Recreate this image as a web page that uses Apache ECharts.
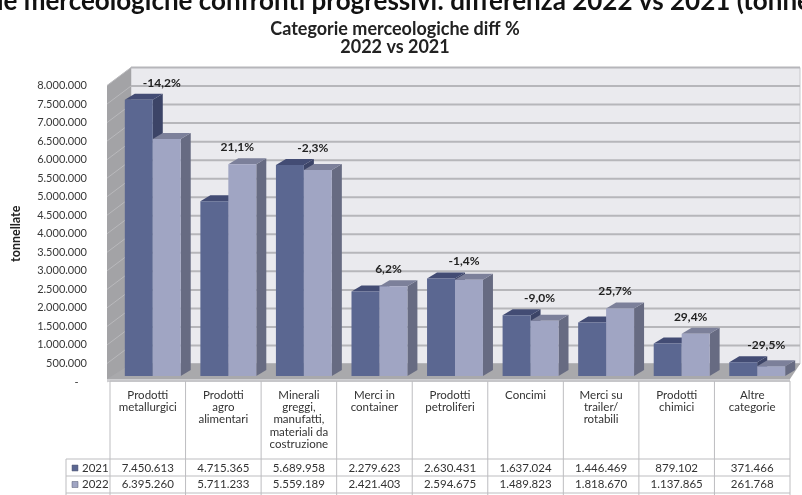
<!DOCTYPE html>
<html>
<head>
<meta charset="utf-8">
<script src="https://cdn.jsdelivr.net/npm/echarts@6/dist/echarts.min.js"></script>
<style>
  html, body { margin: 0; padding: 0; background: #ffffff; }
  #chart { width: 802px; height: 495px; }
</style>
</head>
<body>
<div id="chart"></div>
<script>
// Goods categories (table header text, one line per row)
const categories = [
  'Prodotti\nmetallurgici',
  'Prodotti\nagro\nalimentari',
  'Minerali\ngreggi,\nmanufatti,\nmateriali da\ncostruzione',
  'Merci in\ncontainer',
  'Prodotti\npetroliferi',
  'Concimi',
  'Merci su\ntrailer/\nrotabili',
  'Prodotti\nchimici',
  'Altre\ncategorie'
];
// Tonnes handled per year
const tons2021 = [7450613, 4715365, 5689958, 2279623, 2630431, 1637024, 1446469, 879102, 371466];
const tons2022 = [6395260, 5711233, 5559189, 2421403, 2594675, 1489823, 1818670, 1137865, 261768];
const years = ['2021', '2022'];
// Value axis range and tick step
const axisMin = 0;
const axisMax = 8000000;
const axisStep = 500000;

const FONT = 'Lato, "Open Sans", "DejaVu Sans", sans-serif';
const fmtNum = v => String(v).replace(/\B(?=(\d{3})+(?!\d))/g, '.');
const diffPct = i => ((tons2022[i] / tons2021[i] - 1) * 100).toFixed(1).replace('.', ',') + '%';

// Pseudo-3D offsets (pixels): back wall, bar plane, bar depth
const WALL = { dxL: 21, dxR: 10, dy: -18 };
const PLANE = { dx: 5, dy: -6 };
const DEPTH = { dx: 10, dy: -6 };

const barStyles = [
  { front: '#5b6791', top: '#434c74', side: '#3c4467' },
  { front: '#a0a5c3', top: '#7c809a', side: '#676b82' }
];

// Walls, floor and gridlines of the box
function renderFrame(params, api) {
  const cs = params.coordSys;
  const x0 = cs.x - 3, x1 = cs.x + cs.width;
  const yAt = v => api.coord([0, v])[1];
  const bx0 = cs.x + WALL.dxL, bx1 = x1 + WALL.dxR;
  const y0 = yAt(axisMin), yTop = yAt(axisMax);
  const kids = [];
  kids.push({ type: 'polygon', shape: { points: [[bx0, yTop + WALL.dy], [bx1, yTop + WALL.dy], [bx1, y0 + WALL.dy], [bx0, y0 + WALL.dy]] },
    style: { fill: '#eaeaee', stroke: '#c8c8cc', lineWidth: 1 } });
  kids.push({ type: 'polygon', shape: { points: [[x0, yTop], [bx0, yTop + WALL.dy], [bx0, y0 + WALL.dy], [x0, y0]] },
    style: { fill: '#a3a3a6' } });
  for (let v = axisMin; v <= axisMax; v += axisStep) {
    const y = yAt(v);
    kids.push({ type: 'line', shape: { x1: bx0, y1: y + WALL.dy, x2: bx1, y2: y + WALL.dy },
      style: { stroke: '#b6b6ba', lineWidth: 2 } });
    kids.push({ type: 'line', shape: { x1: x0, y1: y, x2: bx0, y2: y + WALL.dy },
      style: { stroke: '#b9b9bc', lineWidth: 1 } });
  }
  // floor
  kids.push({ type: 'polygon', shape: { points: [[x0, y0 - 3], [x1, y0 - 3], [bx1, y0 + WALL.dy], [bx0, y0 + WALL.dy]] },
    style: { fill: '#a9a9ac' } });
  kids.push({ type: 'polygon', shape: { points: [[x0, y0 - 3], [x1, y0 - 3], [x1, y0], [x0, y0]] },
    style: { fill: '#cfcfd2' } });
  return { type: 'group', children: kids };
}

// One 3D-looking column per data item
function makeBarRenderer(k) {
  const st = barStyles[k];
  return function (params, api) {
    const i = api.value(0);
    const v = api.value(1);
    const band = api.size([1, 0])[0];
    const w = band * 0.37;
    const c = api.coord([i, v]);
    const b = api.coord([i, 0]);
    const xl = c[0] - w + k * w + PLANE.dx;
    const xr = xl + w;
    const yt = c[1] + PLANE.dy;
    const yb = b[1] + PLANE.dy;
    const dx = DEPTH.dx, dy = DEPTH.dy;
    return {
      type: 'group',
      children: [
        { type: 'polygon', shape: { points: [[xr, yt], [xr + dx, yt + dy], [xr + dx, yb + dy], [xr, yb]] }, style: { fill: st.side } },
        { type: 'polygon', shape: { points: [[xl, yt], [xr, yt], [xr + dx, yt + dy], [xl + dx, yt + dy]] }, style: { fill: st.top } },
        { type: 'rect', shape: { x: xl, y: yt, width: w, height: yb - yt }, style: { fill: st.front } }
      ]
    };
  };
}

// Percentage change label above each pair
function renderDiff(params, api) {
  const i = api.value(0);
  const top = Math.max(tons2021[i], tons2022[i]);
  const c = api.coord([i, top]);
  return {
    type: 'text',
    style: {
      x: c[0] + 14, y: c[1] + PLANE.dy - 17,
      text: diffPct(i), align: 'center', verticalAlign: 'middle',
      font: 'bold 12px ' + FONT, fill: '#222222'
    }
  };
}

// Data table under the chart
const TABLE = { top: 381, head: 459, row1: 476, row2: 493, left: 66 };
function renderTable(params, api) {
  const i = api.value(0);
  const band = api.size([1, 0])[0];
  const cx = api.coord([i, 0])[0];
  const xl = cx - band / 2, xr = cx + band / 2;
  const line = '#bdbdc0';
  const kids = [];
  kids.push({ type: 'line', shape: { x1: xr, y1: TABLE.top, x2: xr, y2: 495 }, style: { stroke: line, lineWidth: 1 } });
  kids.push({ type: 'line', shape: { x1: xl, y1: TABLE.top, x2: xr, y2: TABLE.top }, style: { stroke: line, lineWidth: 1 } });
  kids.push({ type: 'text', style: { x: cx, y: 389, text: categories[i], align: 'center', verticalAlign: 'top',
    lineHeight: 12.3, font: '11.5px ' + FONT, fill: '#333333' } });
  kids.push({ type: 'text', style: { x: cx, y: 468, text: fmtNum(tons2021[i]), align: 'center', verticalAlign: 'middle',
    font: '11.5px ' + FONT, fill: '#333333' } });
  kids.push({ type: 'text', style: { x: cx, y: 484.5, text: fmtNum(tons2022[i]), align: 'center', verticalAlign: 'middle',
    font: '11.5px ' + FONT, fill: '#333333' } });
  if (i === 0) {
    [TABLE.head, TABLE.row1, TABLE.row2].forEach(y => {
      kids.push({ type: 'line', shape: { x1: TABLE.left, y1: y, x2: xl + band * categories.length, y2: y }, style: { stroke: line, lineWidth: 1 } });
    });
    kids.push({ type: 'line', shape: { x1: xl, y1: TABLE.top, x2: xl, y2: 495 }, style: { stroke: line, lineWidth: 1 } });
    kids.push({ type: 'line', shape: { x1: TABLE.left, y1: TABLE.head, x2: TABLE.left, y2: 495 }, style: { stroke: line, lineWidth: 1 } });
    [468, 484.5].forEach((y, k) => {
      kids.push({ type: 'rect', shape: { x: TABLE.left + 6, y: y - 3, width: 6, height: 6 },
        style: { fill: barStyles[k].front, stroke: '#555a70', lineWidth: 0.5 } });
      kids.push({ type: 'text', style: { x: TABLE.left + 16, y: y, text: years[k], align: 'left', verticalAlign: 'middle',
        font: '11.5px ' + FONT, fill: '#333333' } });
    });
  }
  return { type: 'group', children: kids };
}

const idx = categories.map((_, i) => i);
const chart = echarts.init(document.getElementById('chart'), null, { renderer: 'canvas' });
chart.setOption({
  animation: false,
  backgroundColor: '#ffffff',
  graphic: [
    { type: 'text', x: 386, y: -11, style: {
      text: 'Categorie merceologiche confronti progressivi: differenza 2022 vs 2021 (tonnellate)',
      align: 'center', verticalAlign: 'top',
      font: 'bold 26px ' + FONT, fill: '#111111' } },
    { type: 'text', x: 395, y: 29, style: { text: 'Categorie merceologiche diff %', align: 'center', verticalAlign: 'middle',
      font: 'bold 18px ' + FONT, fill: '#222222' } },
    { type: 'text', x: 395, y: 47.5, style: { text: years[1] + ' vs ' + years[0], align: 'center', verticalAlign: 'middle',
      font: 'bold 18px ' + FONT, fill: '#222222' } }
  ],
  grid: { left: 110, right: 12, top: 85.5, bottom: 113, containLabel: false },
  xAxis: {
    type: 'category', data: categories, boundaryGap: true,
    axisLine: { show: false }, axisTick: { show: false }, axisLabel: { show: false }, splitLine: { show: false }
  },
  yAxis: {
    type: 'value', min: axisMin, max: axisMax, interval: axisStep,
    name: 'tonnellate', nameLocation: 'middle', nameRotate: 90, nameGap: 88,
    nameTextStyle: { fontFamily: FONT, fontWeight: 'bold', fontSize: 12.5, color: '#222222' },
    axisLine: { show: false }, axisTick: { show: false }, splitLine: { show: false },
    axisLabel: { margin: 23, fontFamily: FONT, fontSize: 11, color: '#383838',
      formatter: v => v === 0 ? '-   ' : fmtNum(v) }
  },
  series: [
    { type: 'custom', name: 'frame', renderItem: renderFrame, data: [[0, 0]], silent: true, z: 1 },
    { type: 'custom', name: years[0], renderItem: makeBarRenderer(0), data: idx.map(i => [i, tons2021[i]]), z: 2 },
    { type: 'custom', name: years[1], renderItem: makeBarRenderer(1), data: idx.map(i => [i, tons2022[i]]), z: 3 },
    { type: 'custom', name: 'diff', renderItem: renderDiff, data: idx.map(i => [i, 0]), silent: true, z: 4 },
    { type: 'custom', name: 'table', renderItem: renderTable, data: idx.map(i => [i, 0]), silent: true, z: 4 }
  ]
});
</script>
</body>
</html>
